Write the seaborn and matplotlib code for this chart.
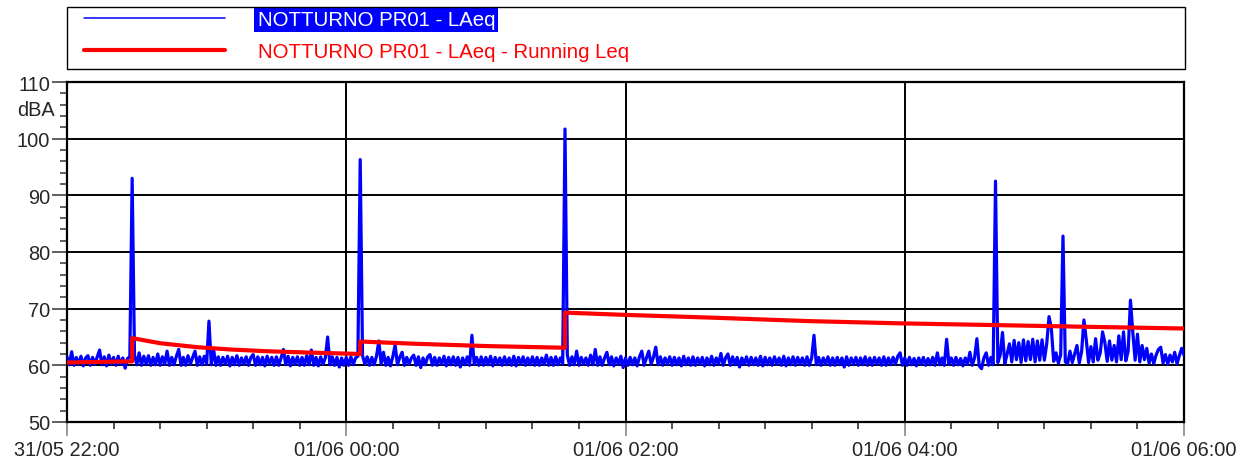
import pandas as pd
import matplotlib
matplotlib.use("Agg")
import matplotlib.pyplot as plt
import matplotlib.dates as mdates
import matplotlib.transforms as mtransforms
from matplotlib.patches import Rectangle
from matplotlib.ticker import MultipleLocator
import seaborn as sns

sns.set_style("ticks")
plt.rcParams['font.family'] = ['Liberation Sans', 'DejaVu Sans']

START = pd.Timestamp("2000-05-31 22:00")  # year is not shown on the chart

# LAeq, one reading per minute starting 31/05 22:00
laeq_22 = [61.5, 60.1, 62.4, 60.0, 61.4, 60.2, 61.6, 59.9, 61.3, 61.7,
           60.0, 61.4, 60.2, 61.5, 62.7, 60.1, 61.5, 59.9, 61.8, 60.2,
           61.4, 60.0, 61.6, 60.2, 61.3, 59.5, 61.2, 61.5, 93.0, 61.8,
           60.1, 62.2, 60.0, 61.6, 60.2, 61.7, 60.0, 61.4, 60.1, 62.0,
           60.0, 61.5, 60.2, 62.5, 60.0, 61.4, 60.1, 61.6, 62.8, 60.0,
           61.4, 60.0, 61.7, 60.2, 61.4, 62.5, 60.0, 61.5, 60.1, 61.6]
laeq_23 = [60.2, 67.8, 60.1, 62.8, 60.0, 61.5, 60.0, 61.4, 60.2, 61.6,
           59.9, 61.4, 60.1, 61.7, 60.0, 61.3, 60.2, 61.5, 60.0, 61.4,
           61.9, 60.0, 61.5, 60.1, 61.4, 59.9, 61.6, 60.2, 61.4, 60.0,
           61.5, 60.0, 61.3, 62.8, 60.1, 61.6, 59.9, 61.4, 60.2, 61.5,
           60.0, 61.4, 60.0, 61.7, 60.1, 62.7, 60.0, 61.4, 59.9, 61.5,
           60.2, 61.3, 65.0, 60.1, 61.5, 60.0, 61.4, 59.7, 61.3, 60.0]
laeq_00 = [61.4, 60.0, 61.5, 60.1, 61.3, 61.6, 96.3, 61.7, 60.2, 61.5,
           60.0, 61.4, 60.1, 61.6, 64.3, 60.2, 62.3, 60.0, 61.4, 59.9,
           61.5, 63.6, 60.1, 61.4, 62.3, 60.0, 61.4, 60.2, 61.3, 61.8,
           60.0, 61.5, 59.6, 61.3, 60.1, 61.5, 61.9, 60.0, 61.4, 60.0,
           61.3, 60.2, 61.6, 59.9, 61.4, 60.1, 61.5, 60.0, 61.4, 59.7,
           61.3, 60.1, 61.5, 60.0, 65.3, 60.2, 61.4, 60.0, 61.5, 60.0]
laeq_01 = [61.4, 60.1, 61.6, 59.9, 61.4, 60.2, 61.3, 60.0, 61.5, 60.1,
           61.3, 60.0, 61.6, 59.9, 61.4, 60.2, 61.5, 60.0, 61.3, 60.1,
           61.5, 60.0, 61.4, 60.0, 61.3, 60.2, 61.8, 60.0, 61.4, 60.0,
           61.5, 60.1, 61.3, 60.2, 101.7, 61.8, 60.0, 61.5, 60.1, 62.5,
           60.0, 61.4, 60.2, 61.3, 60.0, 61.8, 60.1, 62.8, 60.0, 61.5,
           60.0, 61.3, 62.3, 60.1, 61.5, 59.9, 61.3, 60.2, 61.6, 59.6]
laeq_02 = [61.3, 60.0, 61.4, 60.1, 61.3, 59.9, 61.5, 62.5, 60.0, 61.3,
           62.5, 60.2, 61.4, 63.2, 60.1, 61.5, 60.0, 61.3, 60.2, 61.5,
           60.0, 61.4, 60.1, 61.3, 59.9, 61.6, 60.1, 61.3, 60.0, 61.5,
           60.0, 61.3, 60.2, 61.4, 59.9, 61.3, 60.1, 61.6, 60.0, 61.3,
           60.2, 62.1, 60.0, 61.3, 62.0, 60.0, 61.5, 60.1, 61.4, 59.7,
           61.3, 60.2, 61.5, 60.0, 61.4, 60.1, 61.3, 60.0, 61.6, 59.9]
laeq_03 = [61.4, 60.1, 61.3, 60.0, 61.5, 60.2, 61.3, 60.0, 61.6, 59.9,
           61.3, 60.1, 61.5, 60.0, 61.4, 60.2, 61.3, 60.0, 61.5, 60.0,
           61.3, 65.3, 60.1, 61.4, 60.0, 61.3, 60.2, 61.5, 60.0, 61.3,
           60.0, 61.4, 60.1, 61.3, 59.7, 61.5, 60.0, 61.3, 60.2, 61.4,
           60.0, 61.3, 60.1, 61.5, 60.0, 61.3, 60.0, 61.4, 60.2, 61.3,
           60.0, 61.5, 60.0, 61.3, 60.1, 61.4, 60.2, 61.6, 62.2, 60.0]
laeq_04 = [61.3, 60.0, 61.4, 60.1, 61.2, 59.9, 61.3, 60.2, 61.4, 60.0,
           61.2, 60.1, 61.4, 60.0, 62.2, 60.1, 61.3, 60.0, 64.6, 60.2,
           61.3, 60.0, 61.4, 60.1, 61.2, 59.9, 61.3, 60.2, 62.3, 60.0,
           61.3, 64.7, 59.9, 59.4, 61.3, 62.2, 60.0, 61.4, 60.1, 92.5,
           60.5, 61.8, 65.8, 60.3, 62.0, 63.8, 60.6, 64.4, 61.0, 64.0,
           60.5, 64.5, 60.8, 64.2, 61.0, 64.6, 60.6, 64.3, 60.9, 64.5]
laeq_05 = [60.9, 63.8, 68.6, 66.5, 60.7, 62.2, 60.4, 61.8, 82.8, 60.6,
           60.3, 62.5, 60.5, 62.0, 63.5, 60.4, 62.4, 68.0, 64.5, 60.5,
           63.3, 60.6, 64.7, 60.9, 62.2, 65.9, 64.0, 60.7, 64.3, 60.9,
           63.5, 60.6, 65.2, 61.0, 65.9, 60.8, 62.5, 71.5, 65.8, 60.9,
           65.5, 60.6, 63.5, 61.0, 63.0, 60.4, 62.0, 60.3, 61.8, 62.8,
           63.2, 60.4, 61.9, 60.2, 61.8, 60.6, 62.3, 60.3, 61.7, 63.0,
           61.8]

# running Leq, break points (minutes after 22:00, dBA)
run_minutes = [0, 28, 28, 40, 56, 70, 85, 100, 126, 126, 150, 180, 214, 214,
               240, 278, 319, 359, 399, 438, 480]
run_values = [60.5, 60.7, 64.8, 63.9, 63.2, 62.8, 62.5, 62.3, 62.0, 64.2,
              63.8, 63.4, 63.1, 69.3, 68.9, 68.4, 67.8, 67.4, 67.1, 66.8, 66.5]

LABEL_LAEQ = "NOTTURNO PR01 - LAeq"
LABEL_RUN = "NOTTURNO PR01 - LAeq - Running Leq"

laeq = laeq_22 + laeq_23 + laeq_00 + laeq_01 + laeq_02 + laeq_03 + laeq_04 + laeq_05
df_laeq = pd.DataFrame({
    "time": START + pd.to_timedelta(range(len(laeq)), unit="min"),
    "dBA": laeq,
})
df_run = pd.DataFrame({
    "time": START + pd.to_timedelta(run_minutes, unit="min"),
    "dBA": run_values,
})

fig = plt.figure(figsize=(12.5, 4.64), dpi=100)
ax = fig.add_axes([0.0536, 0.0884, 0.8936, 0.7327])

sns.lineplot(data=df_laeq, x="time", y="dBA", color="#0000ff", lw=2.3,
             estimator=None, sort=False, label=LABEL_LAEQ, ax=ax, zorder=3)
sns.lineplot(data=df_run, x="time", y="dBA", color="#ff0000", lw=3,
             estimator=None, sort=False, label=LABEL_RUN, ax=ax, zorder=4)

ax.set_xlim(START, START + pd.Timedelta(hours=8))
ax.set_ylim(50, 110)
ax.set_xlabel("")
ax.set_ylabel("")

ax.xaxis.set_major_locator(mdates.HourLocator(byhour=[0, 2, 4, 6, 22]))
ax.xaxis.set_minor_locator(mdates.MinuteLocator(byminute=[0, 20, 40]))
ax.xaxis.set_major_formatter(mdates.DateFormatter("%d/%m %H:%M"))
ax.yaxis.set_major_locator(MultipleLocator(10))
ax.yaxis.set_minor_locator(MultipleLocator(2))

ax.grid(True, which="major", color="black", lw=1.4)
ax.set_axisbelow(True)
for s in ax.spines.values():
    s.set_color("black")
    s.set_linewidth(1.6)

ax.tick_params(axis="both", which="both", direction="out", labelsize=14.4,
               bottom=True, left=True, top=False, right=False)
ax.tick_params(axis="x", which="major", length=10, width=1.2, color="#888888", pad=3)
ax.tick_params(axis="x", which="minor", length=5, width=1.2, color="#333333")
ax.tick_params(axis="y", which="major", length=11, width=1.2, color="#444444", pad=1)
ax.tick_params(axis="y", which="minor", length=5, width=1.2, color="#444444")

# unit label under the top tick
trans = mtransforms.blended_transform_factory(ax.transAxes, ax.transData)
ax.text(-0.011, 105.2, "dBA", transform=trans, ha="right", va="center", fontsize=14.4)

handles, labels = ax.get_legend_handles_labels()
leg = ax.legend(handles, labels, loc="upper left",
                bbox_to_anchor=(84 / 1250, 1 - 11 / 464), bbox_transform=fig.transFigure,
                frameon=False, fontsize=14.7,
                handlelength=6.9, handletextpad=1.6, borderpad=0,
                labelspacing=0.65, borderaxespad=0)
leg.get_lines()[0].set_linewidth(1.1)
t0, t1 = leg.get_texts()
t0.set_color("white")
t0.set_bbox(dict(boxstyle="square,pad=0.15", fc="#0000ff", ec="none"))
t1.set_color("#ff0000")

# legend frame
fig.patches.append(Rectangle((67 / 1250, 1 - 70 / 464), 1118 / 1250, 62 / 464,
                             transform=fig.transFigure, fill=False,
                             edgecolor="black", lw=1.0))

fig.savefig("out.png", dpi=100)
